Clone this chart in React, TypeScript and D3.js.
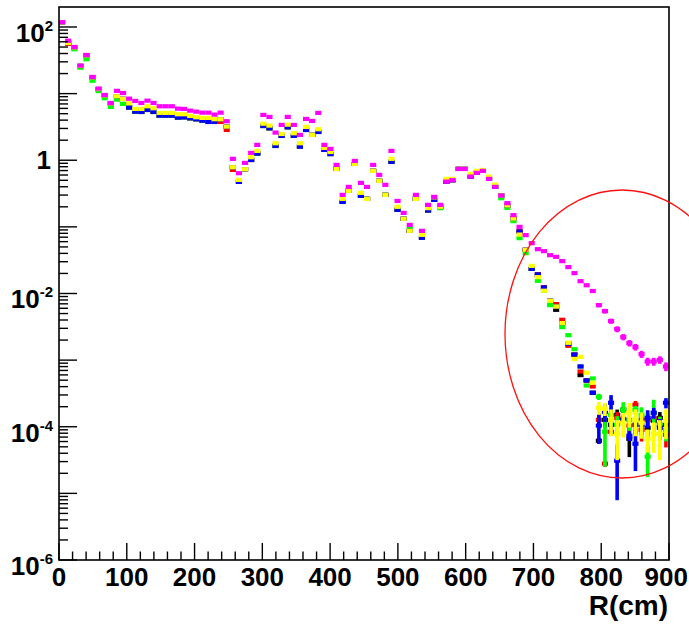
import React from 'react';
import * as d3 from 'd3';

// 100 bins of 9 cm over R = 0..900 cm
const binWidthCm = 9;
const xTicks = [0, 100, 200, 300, 400, 500, 600, 700, 800, 900];
const yLabelExponents = [2, 0, -2, -4, -6];

const magenta = [
  118, 62.3, 50.1, 26.3, 38.0, 17.8, 11.9, 9.55, 7.24, 11.0,
  10.2, 8.4, 7.76, 7.24, 7.84, 7.24, 6.46, 6.46, 6.46, 5.95,
  5.89, 5.55, 5.36, 5.18, 5.18, 4.84, 5.18, 3.85, 1.05, 0.639,
  0.912, 1.29, 1.70, 4.79, 4.47, 2.60, 3.39, 4.47, 3.39, 2.40,
  4.17, 3.89, 5.13, 1.70, 1.48, 0.851, 0.302, 0.398, 0.977, 0.457,
  0.398, 0.851, 0.603, 0.427, 1.38, 0.245, 0.162, 0.107, 0.302, 0.0871,
  0.214, 0.282, 0.214, 0.478, 0.502, 0.741, 0.741, 0.568, 0.646, 0.692,
  0.525, 0.398, 0.295, 0.227, 0.150, 0.100, 0.0751, 0.0569, 0.0463, 0.0432,
  0.0376, 0.0355, 0.0306, 0.0249, 0.0202, 0.0153, 0.0133, 0.0109, 0.00669, 0.00544,
  0.00385, 0.00292, 0.00222, 0.00180, 0.00157, 0.00123, 0.000954, 0.000954, 0.00101, 0.000803,
];

const yellow = [
  117, 57.5, 49.3, 26.0, 37.4, 17.5, 11.7, 9.39, 7.12, 9.13,
  8.32, 7.17, 5.89, 5.89, 6.46, 6.03, 5.13, 5.13, 5.13, 4.90,
  4.90, 4.62, 4.42, 4.32, 4.32, 4.13, 4.13, 3.20, 0.786, 0.507,
  0.734, 1.11, 1.38, 3.54, 3.31, 1.80, 2.48, 3.42, 2.54, 1.80,
  3.16, 2.40, 2.92, 1.53, 1.33, 0.741, 0.263, 0.347, 0.881, 0.324,
  0.263, 0.692, 0.490, 0.302, 1.05, 0.200, 0.132, 0.0871, 0.263, 0.0759,
  0.191, 0.277, 0.200, 0.525, 0.525, 0.741, 0.741, 0.624, 0.692, 0.716,
  0.568, 0.431, 0.295, 0.210, 0.133, 0.0766, 0.0452, 0.0260, 0.0176, 0.0110,
  0.00776, 0.00637, 0.00359, 0.00182, 0.00104, 0.00112, 0.000646, 0.000457, 1.93e-4, 1.86e-4,
  1.27e-4, 7.85e-5, 1.15e-4, 1.62e-4, 1.27e-4, 1.15e-4, 6.6e-5, 7.85e-5, 7.85e-5, 1.23e-4,
];

const blue = [
  117, 57.5, 49.3, 26.0, 37.4, 17.5, 11.7, 9.39, 7.12, 9.13,
  8.32, 6.16, 5.36, 5.31, 5.69, 5.31, 4.67, 4.67, 4.67, 4.36,
  4.42, 4.27, 4.13, 3.93, 3.76, 3.76, 4.13, 3.20, 0.786, 0.473,
  0.734, 1.01, 1.26, 3.27, 3.02, 1.64, 2.32, 3.13, 2.32, 1.60,
  2.85, 2.40, 2.66, 1.43, 1.24, 0.741, 0.237, 0.347, 0.881, 0.292,
  0.263, 0.692, 0.490, 0.302, 0.944, 0.180, 0.132, 0.0871, 0.263, 0.0684,
  0.176, 0.254, 0.200, 0.478, 0.502, 0.741, 0.741, 0.568, 0.646, 0.692,
  0.525, 0.398, 0.295, 0.210, 0.133, 0.0850, 0.0452, 0.0234, 0.0193, 0.0123,
  0.00776, 0.00637, 0.00359, 0.00176, 0.00121, 0.000803, 0.000495, 0.000324, 1.04e-4, 1.68e-4,
  2.29e-4, 3.09e-5, 1.27e-4, 7.33e-5, 5.56e-5, 1.07e-4, 1.36e-4, 1.62e-4, 9.66e-5, 2.29e-4,
];

const green = [
  117, 57.5, 46.3, 24.5, 32.8, 15.6, 10.9, 8.52, 6.31, 8.12,
  7.00, 6.16, 5.36, 5.31, 5.69, 5.31, 4.67, 4.67, 4.67, 4.36,
  4.42, 4.27, 4.13, 3.93, 3.76, 3.76, 4.13, 3.20, 0.786, 0.473,
  0.734, 1.01, 1.26, 3.27, 3.02, 1.64, 2.32, 3.13, 2.32, 1.60,
  2.85, 2.40, 2.66, 1.43, 1.24, 0.741, 0.237, 0.347, 0.881, 0.292,
  0.263, 0.692, 0.490, 0.302, 0.944, 0.180, 0.132, 0.0943, 0.263, 0.0684,
  0.176, 0.254, 0.191, 0.478, 0.502, 0.741, 0.741, 0.568, 0.646, 0.692,
  0.525, 0.398, 0.269, 0.193, 0.122, 0.0677, 0.0403, 0.0234, 0.0155, 0.0110,
  0.00669, 0.00637, 0.00313, 0.00237, 0.00146, 0.000803, 0.000416, 0.000530, 2.82e-4, 8.41e-5,
  1.51e-4, 1.07e-4, 1.80e-4, 1.27e-4, 1.80e-4, 1.51e-4, 3.55e-5, 1.62e-4, 1.07e-4, 9.02e-5,
];

const red = [
  117, 55.6, 49.3, 26.0, 37.4, 17.5, 11.7, 9.39, 7.12, 9.13,
  8.32, 6.16, 5.36, 5.31, 5.69, 5.31, 4.67, 4.67, 4.67, 4.36,
  4.42, 4.27, 4.13, 3.93, 3.76, 3.76, 3.76, 2.85, 0.716, 0.473,
  0.734, 1.01, 1.26, 3.27, 3.02, 1.64, 2.32, 3.13, 2.32, 1.60,
  2.85, 2.40, 2.66, 1.43, 1.24, 0.741, 0.237, 0.347, 0.881, 0.292,
  0.263, 0.692, 0.490, 0.302, 0.944, 0.180, 0.132, 0.0871, 0.263, 0.0684,
  0.176, 0.254, 0.200, 0.478, 0.502, 0.741, 0.741, 0.568, 0.646, 0.692,
  0.525, 0.398, 0.295, 0.210, 0.133, 0.0850, 0.0452, 0.0234, 0.0193, 0.0123,
  0.00776, 0.00693, 0.00403, 0.00164, 0.00121, 0.000675, 0.000495, 0.000402, 1.27e-4, 2.79e-5,
  8.41e-5, 1.36e-4, 1.31e-4, 1.04e-4, 2.14e-4, 9.0e-5, 1.27e-4, 1.36e-4, 1.07e-4, 7.59e-5,
];

const black = [
  117, 57.5, 49.3, 26.0, 37.4, 17.5, 11.7, 9.39, 7.12, 9.13,
  8.32, 6.16, 5.36, 5.31, 5.69, 5.31, 4.67, 4.67, 4.67, 4.36,
  4.42, 4.27, 4.13, 3.93, 3.76, 3.76, 4.13, 3.20, 0.786, 0.473,
  0.734, 1.01, 1.26, 3.27, 3.02, 1.64, 2.32, 3.13, 2.32, 1.60,
  2.85, 2.40, 2.66, 1.43, 1.24, 0.741, 0.237, 0.347, 0.881, 0.292,
  0.263, 0.692, 0.490, 0.302, 0.944, 0.180, 0.132, 0.0871, 0.263, 0.0684,
  0.176, 0.254, 0.200, 0.478, 0.502, 0.741, 0.741, 0.568, 0.646, 0.692,
  0.525, 0.398, 0.295, 0.210, 0.133, 0.0850, 0.0452, 0.0234, 0.0193, 0.0123,
  0.00776, 0.00569, 0.00359, 0.00176, 0.00121, 0.000596, 0.000495, 0.000324, 6.17e-5, 1.27e-4,
  1.07e-4, 1.51e-4, 1.80e-4, 6.6e-5, 1.07e-4, 1.27e-4, 9.66e-5, 1.23e-4, 1.36e-4, 1.07e-4,
];

// statistical errors, given for the tail bins 88..99 only (smaller elsewhere than the marker)
const tailStartBin = 88;
const magentaErr = [5e-4, 4.5e-4, 3.5e-4, 3e-4, 2.4e-4, 2e-4, 1.8e-4, 1.5e-4, 1.3e-4, 1.3e-4, 1.3e-4, 1.2e-4];
const yellowErr = [4.2e-5, 4.1e-5, 5.5e-5, 4.7e-5, 4.6e-5, 6.5e-5, 5.5e-5, 4.9e-5, 2.5e-5, 3.8e-5, 4.7e-5, 5.8e-5];
const blueErr = [4.9e-5, 5.0e-5, 6.9e-5, 2.3e-5, 1.9e-5, 1.2e-5, 3.4e-5, 3.2e-5, 4.1e-5, 3.0e-5, 3.4e-5, 4.0e-5];
const greenErr = [3.0e-5, 5.9e-5, 4.5e-5, 3.7e-5, 5.4e-5, 4.0e-5, 2.5e-5, 4.5e-5, 1.8e-5, 9.2e-5, 3.5e-5, 3.0e-5];
const redErr = [3.0e-5, 3.0e-6, 1.0e-5, 3.0e-5, 2.0e-5, 2.0e-5, 3.0e-5, 3.0e-5, 3.0e-5, 2.0e-5, 3.0e-5, 2.7e-5];
const blackErr = [6.0e-6, 3.0e-5, 3.0e-5, 3.0e-5, 2.0e-5, 3.1e-5, 3.0e-5, 3.0e-5, 3.0e-5, 1.0e-5, 3.0e-5, 2.0e-5];

// drawing order: first drawn is underneath
const seriesList = [
  { name: 'black', color: '#000000', values: black, errs: blackErr },
  { name: 'red', color: '#ff0000', values: red, errs: redErr },
  { name: 'green', color: '#00ff00', values: green, errs: greenErr },
  { name: 'blue', color: '#0000ff', values: blue, errs: blueErr },
  { name: 'yellow', color: '#ffff00', values: yellow, errs: yellowErr },
  { name: 'magenta', color: '#ff00ff', values: magenta, errs: magentaErr },
];

export default function App() {
  const W = 689;
  const H = 624;
  const left = 59, right = 669, top = 7, bottom = 560;
  const x = d3.scaleLinear().domain([0, 900]).range([left, right]);
  const y = d3.scaleLog().domain([1e-6, Math.pow(10, 2.3)]).range([bottom, top]);
  const font = '"Liberation Sans", Arial, Helvetica, sans-serif';

  const bottomTicks = d3.range(0, 901, 20);
  const leftMinor: number[] = [];
  const leftMajor: number[] = [];
  for (let e = -6; e <= 2; e++) {
    leftMajor.push(Math.pow(10, e));
    for (let m = 2; m <= 9; m++) {
      const v = m * Math.pow(10, e);
      if (v < Math.pow(10, 2.3)) leftMinor.push(v);
    }
  }

  return (
    <svg width={W} height={H} style={{ position: 'absolute', left: 0, top: 0, background: '#fff' }}>
      <rect x={0} y={0} width={W} height={H} fill="#fff" />
      <defs>
        <clipPath id="plotClip">
          <rect x={left} y={top} width={right - left} height={bottom - top} />
        </clipPath>
      </defs>
      <g clipPath="url(#plotClip)">
        {seriesList.map((s) => (
          <g key={s.name} fill={s.color}>
            {s.values.map((v, i) => {
              const x0 = x(i * binWidthCm);
              const x1 = x((i + 1) * binWidthCm);
              const xc = (x0 + x1) / 2;
              const yc = y(v);
              const ti = i - tailStartBin;
              const e = ti >= 0 ? s.errs[ti] : 0;
              return (
                <g key={i}>
                  {e > 0 && (
                    <rect
                      x={xc - 1.8}
                      width={3.6}
                      y={y(v + e)}
                      height={y(Math.max(v - e, 1e-7)) - y(v + e)}
                    />
                  )}
                  <rect x={x0} width={x1 - x0} y={yc - 2.1} height={4.2} />
                </g>
              );
            })}
          </g>
        ))}
      </g>

      {/* frame */}
      <rect x={left} y={top} width={right - left} height={bottom - top} fill="none" stroke="#000" strokeWidth={1.6} />

      {/* ticks */}
      <g stroke="#000" strokeWidth={1.4}>
        {bottomTicks.map((t) => (
          <line key={t} x1={x(t)} x2={x(t)} y1={bottom} y2={bottom - (t % 100 === 0 ? 17 : 8.5)} />
        ))}
        {leftMajor.map((t) => (
          <line key={'M' + t} x1={left} x2={left + 18} y1={y(t)} y2={y(t)} />
        ))}
        {leftMinor.map((t) => (
          <line key={'m' + t} x1={left} x2={left + 9} y1={y(t)} y2={y(t)} />
        ))}
      </g>

      {/* x tick labels */}
      <g fontFamily={font} fontWeight="bold" fontSize={26} fill="#000">
        {xTicks.map((t, i) => {
          const last = i === xTicks.length - 1;
          return (
            <text key={t} x={last ? 688 : x(t)} y={586} textAnchor={last ? 'end' : 'middle'}>
              {t}
            </text>
          );
        })}
      </g>

      {/* y tick labels */}
      <g fontFamily={font} fontWeight="bold" fill="#000" textAnchor="end">
        {yLabelExponents.map((ex) =>
          ex === 0 ? (
            <text key={ex} x={51} y={y(1) + 9} fontSize={26}>1</text>
          ) : (
            <text key={ex} x={53} y={y(Math.pow(10, ex)) + 15} fontSize={26}>
              10
              <tspan dy={-11} fontSize={15}>{ex}</tspan>
            </text>
          )
        )}
      </g>

      {/* axis title */}
      <text x={668} y={615} textAnchor="end" fontFamily={font} fontWeight="bold" fontSize={28} fill="#000">
        R(cm)
      </text>

      {/* highlight ellipse */}
      <ellipse cx={622} cy={334} rx={117} ry={144} fill="none" stroke="#ff1010" strokeWidth={1.3} />
    </svg>
  );
}
